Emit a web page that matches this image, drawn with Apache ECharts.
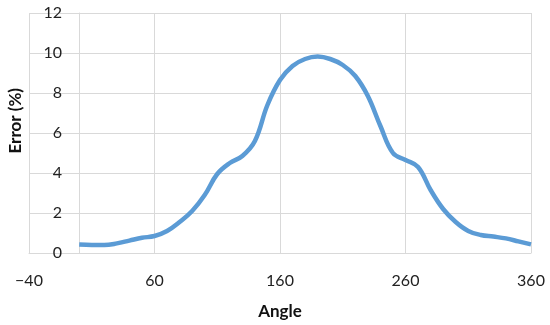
<!DOCTYPE html>
<html><head><meta charset="utf-8">
<script src="https://cdn.jsdelivr.net/npm/echarts@6/dist/echarts.min.js"></script>
<style>html,body{margin:0;padding:0;background:#fff}#c{width:550px;height:325px}</style>
</head><body><div id="c"></div>
<script>
const angles = [0,10,20,30,40,50,60,70,80,90,100,110,120,130,140,150,160,170,180,190,200,210,220,230,240,250,260,270,280,290,300,310,320,330,340,350,360];
const errors = [0.42,0.40,0.40,0.48,0.62,0.76,0.85,1.10,1.55,2.10,2.90,3.95,4.50,4.85,5.60,7.40,8.65,9.35,9.70,9.82,9.70,9.40,8.85,7.85,6.35,5.00,4.65,4.30,3.15,2.20,1.55,1.10,0.90,0.82,0.73,0.58,0.43];
const xTicks = {min:-40, max:360, step:100};
const yTicks = {min:0, max:12, step:2};
const xTitle = 'Angle';
const yTitle = 'Error (%)';

const chart = echarts.init(document.getElementById('c'));
const font = 'Lato, "Open Sans", sans-serif';
chart.setOption({
  animation:false,
  grid:{left:29,right:19,top:13,bottom:72,outerBoundsMode:'none',containLabel:false},
  xAxis:{type:'value',min:xTicks.min,max:xTicks.max,interval:xTicks.step,
    axisLine:{show:true,onZero:true,lineStyle:{color:'#d9d9d9',width:1}},
    axisTick:{show:false},
    axisLabel:{color:'#222',fontFamily:font,fontSize:16,margin:20,
      formatter:v=>v<0?'\u2212'+Math.abs(v):String(v)},
    splitLine:{show:true,lineStyle:{color:'#d9d9d9',width:1}},
    name:xTitle,nameLocation:'middle',nameGap:50,
    nameTextStyle:{color:'#111',fontFamily:font,fontSize:17,fontWeight:'bold'}},
  yAxis:{type:'value',min:yTicks.min,max:yTicks.max,interval:yTicks.step,
    axisLine:{show:true,onZero:true,lineStyle:{color:'#d9d9d9',width:1}},
    axisTick:{show:false},
    axisLabel:{color:'#222',fontFamily:font,fontSize:16,margin:-33},
    splitLine:{show:true,lineStyle:{color:'#d9d9d9',width:1}}},
  graphic:[{type:'text',left:7,top:88,rotation:Math.PI/2,
    style:{text:yTitle,fill:'#111',font:'bold 17px '+font}}],
  series:[{type:'line',data:angles.map((a,i)=>[a,errors[i]]),smooth:0.4,
    showSymbol:false,lineStyle:{color:'#5b9bd5',width:4.5},itemStyle:{color:'#5b9bd5'}}]
});
</script></body></html>
